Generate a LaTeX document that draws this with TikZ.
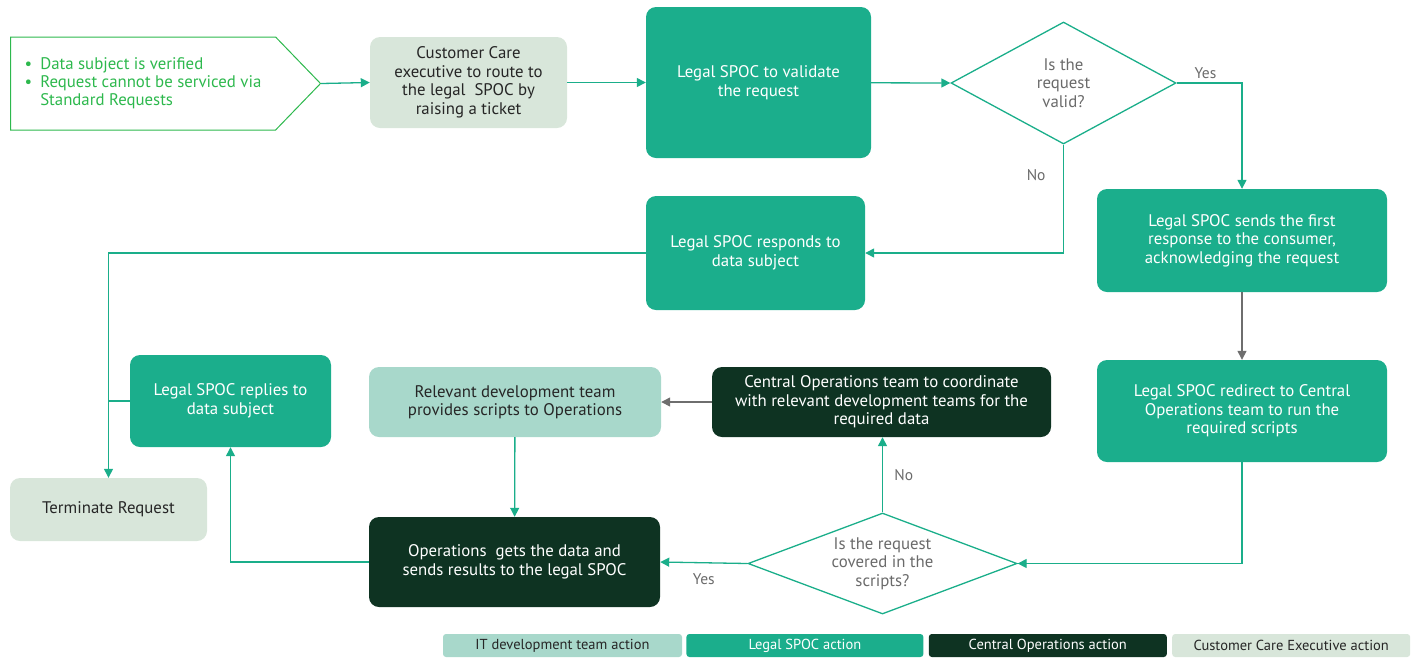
\documentclass[tikz,border=0pt]{standalone}
\usepackage{fontspec}
\setmainfont{PT Sans}
\usetikzlibrary{positioning}
\usetikzlibrary{shapes.geometric,shapes.symbols}
\usetikzlibrary{arrows.meta}
\definecolor{legal}{HTML}{1BAE8C}
\definecolor{ops}{HTML}{0E3322}
\definecolor{care}{HTML}{D8E6DA}
\definecolor{dev}{HTML}{A8D8CB}
\definecolor{flow}{HTML}{1AAE8A}
\definecolor{grayline}{HTML}{6E6E6E}
\definecolor{graytxt}{HTML}{6A6A6A}
\definecolor{inputgreen}{HTML}{2DB84D}
\tikzset{
  box/.style={rectangle,rounded corners=10pt,align=center,inner sep=2pt,
    font=\fontsize{16.8}{18.5}\selectfont},
  legalbox/.style={box,fill=legal,text=white},
  opsbox/.style={box,fill=ops,text=white},
  carebox/.style={box,fill=care,text=black!85},
  devbox/.style={box,fill=dev,text=black!85},
  decision/.style={diamond,draw=flow,line width=1.3pt,inner sep=0pt,align=center,
    text=graytxt,font=\fontsize{16.8}{18.5}\selectfont},
  flowline/.style={draw=flow,line width=1.3pt},
  arr/.style={flowline,-{Triangle[length=9pt,width=9pt]}},
  grayarr/.style={arr,draw=grayline},
  answer/.style={text=graytxt,font=\fontsize{15.5}{17}\selectfont},
  legend/.style={rectangle,rounded corners=3pt,minimum height=23pt,inner sep=0pt,
    font=\fontsize{14.5}{16}\selectfont}
}
\begin{document}
\begin{tikzpicture}[x=1pt,y=-1pt]
  \useasboundingbox (0,0) rectangle (1416,657);
  % top row
  \node[signal,signal to=east,signal pointer angle=92,draw=inputgreen,line width=1pt,
    minimum width=310pt,minimum height=93pt,inner sep=0pt,text=inputgreen,anchor=west,
    font=\fontsize{16.8}{19}\selectfont] (input) at (10,83.5)
    {\begin{tabular}{@{}l@{\hspace{8pt}}l@{}}
      \textbullet & Data subject is verified\\[-1pt]
      \textbullet & Request cannot be serviced via\\[-1pt]
       & Standard Requests
     \end{tabular}\hspace{28pt}};
  \node[carebox,minimum width=197pt,minimum height=91pt] (care) at (468.5,82.5)
    {Customer Care\\executive to route to\\the legal\ \ SPOC by\\raising a ticket};
  \node[legalbox,minimum width=225pt,minimum height=151pt] (validate) at (758.5,82.5)
    {Legal SPOC to validate\\the request};
  \node[decision,aspect=1.84,minimum width=225pt,minimum height=122pt] (valid) at (1063.5,83)
    {Is the\\request\\valid?};
  % middle row
  \node[legalbox,minimum width=219pt,minimum height=114pt] (responds) at (755.5,253)
    {Legal SPOC responds to\\data subject};
  \node[legalbox,minimum width=290pt,minimum height=103pt] (first) at (1242,240.5)
    {Legal SPOC sends the first\\response to the consumer,\\acknowledging the request};
  \node[legalbox,minimum width=290pt,minimum height=102pt] (redirect) at (1242,411)
    {Legal SPOC redirect to Central\\Operations team to run the\\required scripts};
  \node[legalbox,minimum width=201pt,minimum height=92pt] (replies) at (230.5,401)
    {Legal SPOC replies to\\data subject};
  \node[devbox,minimum width=292pt,minimum height=70pt] (scriptsdev) at (515,402)
    {Relevant development team\\provides scripts to Operations};
  \node[opsbox,minimum width=339pt,minimum height=70pt] (central) at (881.5,402)
    {Central Operations team to coordinate\\with relevant development teams for the\\required data};
  % bottom row
  \node[carebox,minimum width=197pt,minimum height=63pt] (terminate) at (108.5,509.5)
    {Terminate Request};
  \node[opsbox,minimum width=291pt,minimum height=90pt] (ops) at (514.5,562)
    {Operations\ \ gets the data and\\sends results to the legal SPOC};
  \node[decision,aspect=2.66,minimum width=269pt,minimum height=101pt] (covered) at (882.5,563.5)
    {Is the request\\covered in the\\scripts?};
  % legend
  \node[legend,fill=dev,text=black!85,minimum width=239pt] (itleg) at (562.5,645.5)
    {IT development team action};
  \node[legend,fill=legal,text=white,minimum width=237pt,right=4pt of itleg] (legalleg)
    {Legal SPOC action};
  \node[legend,fill=ops,text=white,minimum width=238pt,right=5pt of legalleg] (opsleg)
    {Central Operations action};
  \node[legend,fill=care,text=black!85,minimum width=238pt,right=5pt of opsleg] (careleg)
    {Customer Care Executive action};
  % connectors
  \draw[arr] (input.east) -- (care.west);
  \draw[arr] (care) -- (validate);
  \draw[arr] (validate) -- (valid.west);
  \draw[arr] (valid.east) -| (first.north) node[answer,above,pos=0.22] {Yes};
  \draw[arr] (valid.south) |- (responds.east) node[answer,left=14pt,pos=0.14] {No};
  \draw[arr] (responds.west) -| (terminate.north);
  \draw[grayarr] (first) -- (redirect);
  \draw[arr] (redirect.south) |- (covered.east);
  \draw[arr] (covered.north) -- (covered.north |- central.south)
    node[answer,right=8pt,midway] {No};
  \draw[grayarr] (central.west) -- (scriptsdev.east);
  \draw[arr] (scriptsdev) -- (ops);
  \draw[arr] (covered.west) -- (ops.east) node[answer,below=7pt,midway] {Yes};
  \draw[arr] (ops.west) -| (replies.south);
  \draw[flowline] (replies.west) -- (replies.west -| terminate.north);
\end{tikzpicture}
\end{document}
